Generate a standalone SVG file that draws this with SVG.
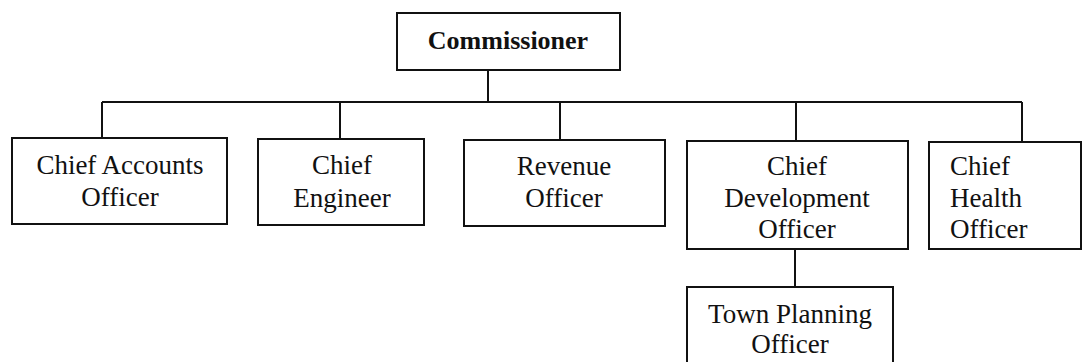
<svg xmlns="http://www.w3.org/2000/svg" width="1086" height="362" viewBox="0 0 1086 362">
<style>
.box{fill:#fff;stroke:#111;stroke-width:2}
.ln{fill:none;stroke:#111;stroke-width:2}
text{font-family:"Liberation Serif","Times New Roman",serif;font-size:27px;fill:#111;text-anchor:middle}
.b{font-weight:bold;font-size:26px}
.l{text-anchor:start}
</style>
<rect width="1086" height="362" fill="#fff"/>
<g id="connectors">
<path class="ln" d="M488 70V102M102 102H1022M102 102V138M340 102V139M560 102V140M796 102V141M1022 102V142M795 249V287"/>
</g>
<g id="commissioner">
<rect class="box" x="397" y="13" width="223" height="57"/>
<text class="b" x="508" y="49">Commissioner</text>
</g>
<g id="chief-accounts">
<rect class="box" x="12" y="138" width="215" height="86"/>
<text x="120" y="174">Chief Accounts</text>
<text x="120" y="206">Officer</text>
</g>
<g id="chief-engineer">
<rect class="box" x="258" y="139" width="166" height="86"/>
<text x="342" y="174">Chief</text>
<text x="342" y="207">Engineer</text>
</g>
<g id="revenue-officer">
<rect class="box" x="464" y="140" width="201" height="86"/>
<text x="564" y="175">Revenue</text>
<text x="564" y="207">Officer</text>
</g>
<g id="chief-development">
<rect class="box" x="687" y="141" width="221" height="108"/>
<text x="797" y="175">Chief</text>
<text x="797" y="207">Development</text>
<text x="797" y="238">Officer</text>
</g>
<g id="chief-health">
<rect class="box" x="929" y="142" width="152" height="107"/>
<text class="l" x="950" y="175">Chief</text>
<text class="l" x="950" y="207">Health</text>
<text class="l" x="950" y="238">Officer</text>
</g>
<g id="town-planning">
<rect class="box" x="687" y="287" width="206" height="80"/>
<text x="790" y="323">Town Planning</text>
<text x="790" y="353">Officer</text>
</g>
</svg>
